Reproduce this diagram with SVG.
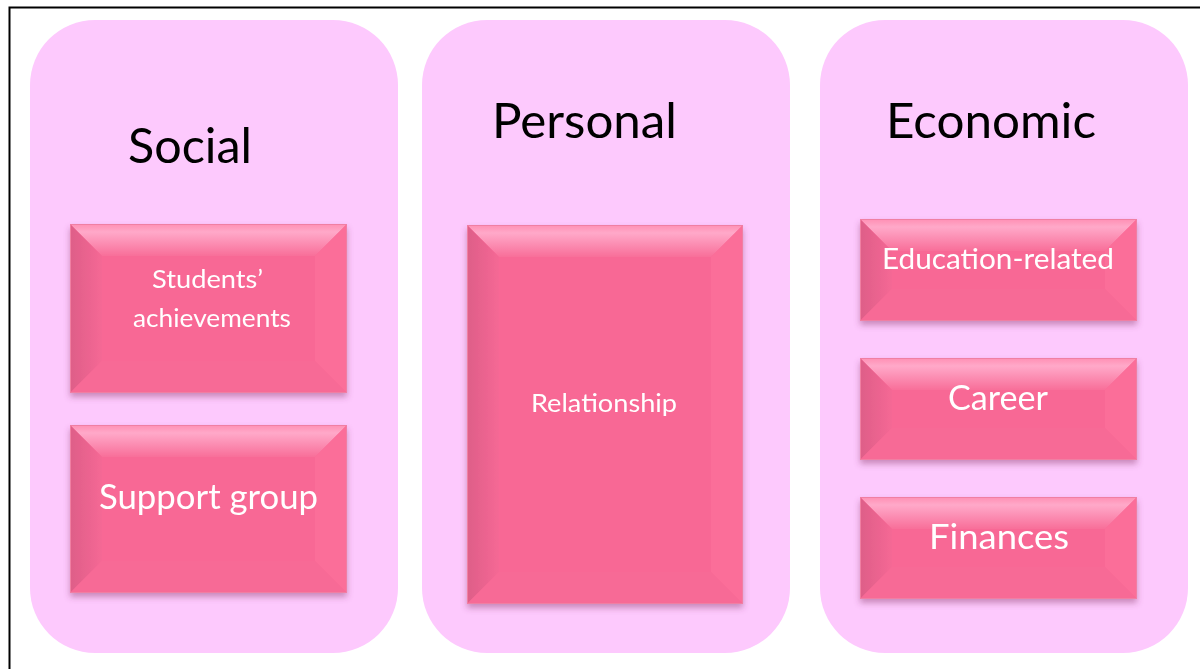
<svg xmlns="http://www.w3.org/2000/svg" width="1200" height="669" viewBox="0 0 1200 669">
<style>
.panel{fill:#FDC9FD}
.title{font-family:Lato,"Open Sans",sans-serif;font-size:49px;fill:#000;text-anchor:middle}
.lbl{font-family:Lato,"Open Sans",sans-serif;fill:#fff;text-anchor:middle}
.face{fill:#F86895}
.bt{fill:url(#gTop)}
.bl{fill:url(#gLeft)}
.br{fill:#FB6E99}
.bb{fill:#F76A96}
.edge{fill:none;stroke:#F07FA3;stroke-width:1}
</style>
<defs>
<linearGradient id="gTop" x1="0" y1="0" x2="0" y2="1">
<stop offset="0" stop-color="#FF8FB4"/>
<stop offset="0.25" stop-color="#FFA9C9"/>
<stop offset="1" stop-color="#F86E99"/>
</linearGradient>
<linearGradient id="gLeft" x1="0" y1="0" x2="1" y2="0">
<stop offset="0" stop-color="#DE5E88"/>
<stop offset="1" stop-color="#F56895"/>
</linearGradient>
<filter id="sh" x="-10%" y="-10%" width="120%" height="130%">
<feGaussianBlur in="SourceAlpha" stdDeviation="3"/>
<feOffset dx="0" dy="4" result="b"/>
<feFlood flood-color="#8A3A6A" flood-opacity="0.45"/>
<feComposite in2="b" operator="in"/>
<feMerge><feMergeNode/><feMergeNode in="SourceGraphic"/></feMerge>
</filter>
</defs>
<rect width="1200" height="669" fill="#fff"/>
<path d="M9.5 669 V7.5 H1200" fill="none" stroke="#000" stroke-width="2"/>

<g id="social">
<rect class="panel" x="30" y="20" width="368" height="633" rx="65"/>
<text class="title" x="190" y="163" textLength="124" lengthAdjust="spacingAndGlyphs">Social</text>
</g>
<g id="personal">
<rect class="panel" x="422" y="20" width="368" height="633" rx="65"/>
<text class="title" x="584.5" y="138" textLength="185" lengthAdjust="spacingAndGlyphs">Personal</text>
</g>
<g id="economic">
<rect class="panel" x="820" y="20" width="368" height="633" rx="65"/>
<text class="title" x="991" y="138" textLength="210" lengthAdjust="spacingAndGlyphs">Economic</text>
</g>

<g id="students-achievements" filter="url(#sh)">
<rect class="face" x="70" y="224" width="277" height="169"/>
<polygon class="bt" points="70,224 347,224 315,256 102,256"/>
<polygon class="bl" points="70,224 102,256 102,361 70,393"/>
<polygon class="br" points="347,224 347,393 315,361 315,256"/>
<polygon class="bb" points="70,393 102,361 315,361 347,393"/>
<rect class="edge" x="70.5" y="224.5" width="276" height="168"/>
<text class="lbl" font-size="25" x="207.5" y="288" textLength="111" lengthAdjust="spacingAndGlyphs">Students’</text>
<text class="lbl" font-size="25" x="212" y="327" textLength="158" lengthAdjust="spacingAndGlyphs">achievements</text>
</g>
<g id="support-group" filter="url(#sh)">
<rect class="face" x="70" y="425" width="277" height="168"/>
<polygon class="bt" points="70,425 347,425 315,457 102,457"/>
<polygon class="bl" points="70,425 102,457 102,561 70,593"/>
<polygon class="br" points="347,425 347,593 315,561 315,457"/>
<polygon class="bb" points="70,593 102,561 315,561 347,593"/>
<rect class="edge" x="70.5" y="425.5" width="276" height="167"/>
<text class="lbl" font-size="34" x="208.5" y="509" textLength="219" lengthAdjust="spacingAndGlyphs">Support group</text>
</g>
<g id="relationship" filter="url(#sh)">
<rect class="face" x="467" y="225" width="276" height="379"/>
<polygon class="bt" points="467,225 743,225 711,257 499,257"/>
<polygon class="bl" points="467,225 499,257 499,572 467,604"/>
<polygon class="br" points="743,225 743,604 711,572 711,257"/>
<polygon class="bb" points="467,604 499,572 711,572 743,604"/>
<rect class="edge" x="467.5" y="225.5" width="275" height="378"/>
<text class="lbl" font-size="25" x="604" y="412" textLength="146" lengthAdjust="spacingAndGlyphs">Relationship</text>
</g>
<g id="education-related" filter="url(#sh)">
<rect class="face" x="860" y="219" width="277" height="102"/>
<polygon class="bt" points="860,219 1137,219 1105,251 892,251"/>
<polygon class="bl" points="860,219 892,251 892,289 860,321"/>
<polygon class="br" points="1137,219 1137,321 1105,289 1105,251"/>
<polygon class="bb" points="860,321 892,289 1105,289 1137,321"/>
<rect class="edge" x="860.5" y="219.5" width="276" height="101"/>
<text class="lbl" font-size="29" x="998" y="269" textLength="232" lengthAdjust="spacingAndGlyphs">Education-related</text>
</g>
<g id="career" filter="url(#sh)">
<rect class="face" x="860" y="358" width="277" height="102"/>
<polygon class="bt" points="860,358 1137,358 1105,390 892,390"/>
<polygon class="bl" points="860,358 892,390 892,428 860,460"/>
<polygon class="br" points="1137,358 1137,460 1105,428 1105,390"/>
<polygon class="bb" points="860,460 892,428 1105,428 1137,460"/>
<rect class="edge" x="860.5" y="358.5" width="276" height="101"/>
<text class="lbl" font-size="34" x="998" y="410" textLength="100" lengthAdjust="spacingAndGlyphs">Career</text>
</g>
<g id="finances" filter="url(#sh)">
<rect class="face" x="860" y="497" width="277" height="102"/>
<polygon class="bt" points="860,497 1137,497 1105,529 892,529"/>
<polygon class="bl" points="860,497 892,529 892,567 860,599"/>
<polygon class="br" points="1137,497 1137,599 1105,567 1105,529"/>
<polygon class="bb" points="860,599 892,567 1105,567 1137,599"/>
<rect class="edge" x="860.5" y="497.5" width="276" height="101"/>
<text class="lbl" font-size="34" x="999" y="549" textLength="140" lengthAdjust="spacingAndGlyphs">Finances</text>
</g>
<g id="connectors"/>
</svg>
